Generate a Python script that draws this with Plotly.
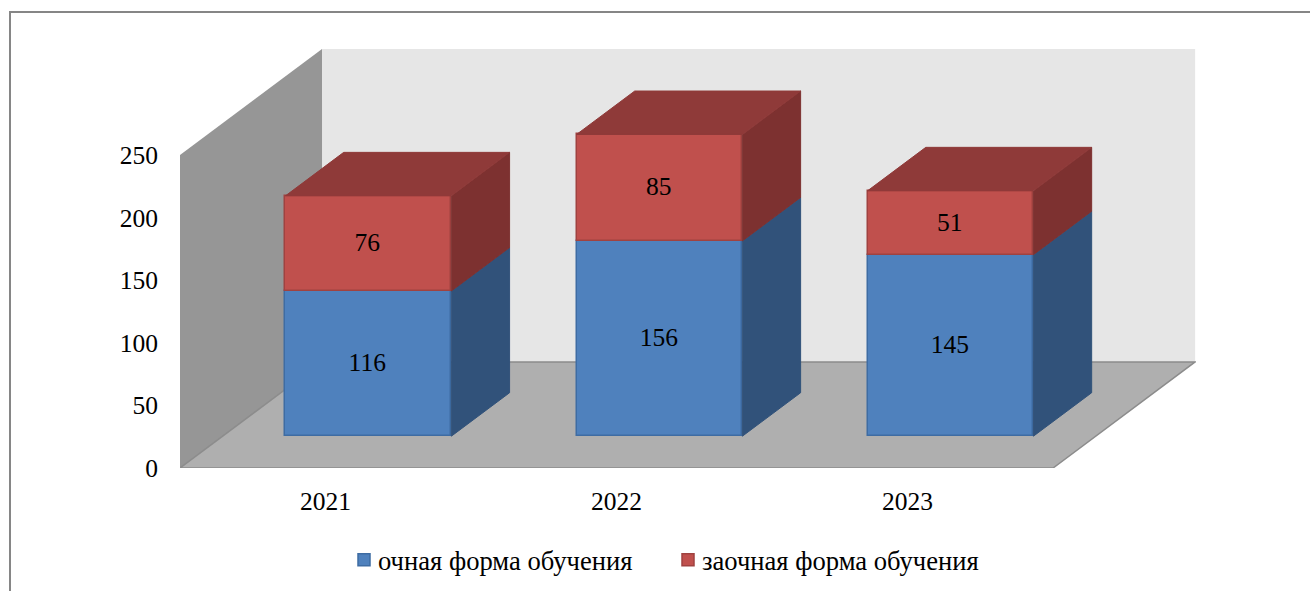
import plotly.graph_objects as go

# ---- data ----
years = ["2021", "2022", "2023"]
full_time = [116, 156, 145]
part_time = [76, 85, 51]
y_ticks = [0, 50, 100, 150, 200, 250]
series_names = ["очная форма обучения", "заочная форма обучения"]

# ---- 3D projection parameters (in axis units) ----
DEPTH_X = 0.488     # floor depth along x
DEPTH_Y = 84.7      # floor depth along y
BAR_START = 0.30    # bar front as a fraction of the floor depth
BAR_DEPTH = 0.41    # bar depth as a fraction of the floor depth
BAR_WIDTH = 0.57
X_MAX = 3.491
Y_MAX = 335.5

FONT = "Liberation Serif"
FS = 25.5
FS_LEGEND = 26.6
BLUE, BLUE_EDGE, BLUE_SIDE = "#4F81BD", "#3E6CA3", "#31527A"
RED, RED_EDGE, RED_SIDE, RED_TOP = "#C0504D", "#A04240", "#7D3130", "#8F3A39"

centers = [i + 0.5 + BAR_START * DEPTH_X + 0.001 for i in range(len(years))]
base0 = BAR_START * DEPTH_Y
bases_red = [base0 + v for v in full_time]
tops = [base0 + a + b for a, b in zip(full_time, part_time)]
ddx, ddy = BAR_DEPTH * DEPTH_X, BAR_DEPTH * DEPTH_Y

fig = go.Figure()


def face(xs, ys, color):
    fig.add_trace(go.Scatter(
        x=xs + xs[:1], y=ys + ys[:1], mode="lines", fill="toself", fillcolor=color,
        line=dict(color=color, width=1), hoverinfo="skip", showlegend=False))


for c, b, m, t in zip(centers, [base0] * 3, bases_red, tops):
    l, r = c - BAR_WIDTH / 2, c + BAR_WIDTH / 2
    face([r, r + ddx, r + ddx, r], [b, b + ddy, m + ddy, m], BLUE_SIDE)
    face([r, r + ddx, r + ddx, r], [m, m + ddy, t + ddy, t], RED_SIDE)
    face([l, r, r + ddx, l + ddx], [t, t, t + ddy, t + ddy], RED_TOP)

fig.add_trace(go.Bar(
    x=centers, y=full_time, base=[base0] * 3, width=BAR_WIDTH, name=series_names[0],
    marker=dict(color=BLUE, line=dict(color=BLUE_EDGE, width=1.5)),
    text=full_time, textposition="inside", insidetextanchor="middle", textangle=0,
    textfont=dict(family=FONT, size=FS, color="black"), hoverinfo="y"))
fig.add_trace(go.Bar(
    x=centers, y=part_time, base=bases_red, width=BAR_WIDTH, name=series_names[1],
    marker=dict(color=RED, line=dict(color=RED_EDGE, width=1.5)),
    text=part_time, textposition="inside", insidetextanchor="middle", textangle=0,
    textfont=dict(family=FONT, size=FS, color="black"), hoverinfo="y"))


def poly(pts):
    return "M " + " L ".join(f"{x} {y}" for x, y in pts) + " Z"


n = len(years)
h = y_ticks[-1]
shapes = [
    # back wall
    dict(type="path", xref="x", yref="y", layer="below", fillcolor="#E6E6E6", line=dict(width=0),
         path=poly([(DEPTH_X, DEPTH_Y), (n + DEPTH_X, DEPTH_Y), (n + DEPTH_X, DEPTH_Y + h), (DEPTH_X, DEPTH_Y + h)])),
    # left wall
    dict(type="path", xref="x", yref="y", layer="below", fillcolor="#969696", line=dict(width=0),
         path=poly([(0, 0), (DEPTH_X, DEPTH_Y), (DEPTH_X, DEPTH_Y + h), (0, h)])),
    # floor
    dict(type="path", xref="x", yref="y", layer="below", fillcolor="#AFAFAF",
         line=dict(color="#8C8C8C", width=1.5),
         path=poly([(0, 0), (n, 0), (n + DEPTH_X, DEPTH_Y), (DEPTH_X, DEPTH_Y)])),
    # outer chart frame (open at the bottom, cropped at the right)
    dict(type="path", xref="paper", yref="paper", layer="below", line=dict(color="#868686", width=2),
         path=f"M {(10 - 180) / 1016} {(468 - 600) / 420} L {(10 - 180) / 1016} {(468 - 12) / 420} "
              f"L {(1320 - 180) / 1016} {(468 - 12) / 420}"),
]

fig.update_layout(
    width=1310, height=591, autosize=False,
    margin=dict(l=180, r=114, t=48, b=123, pad=0, autoexpand=False),
    paper_bgcolor="white", plot_bgcolor="rgba(0,0,0,0)",
    barmode="overlay", shapes=shapes, bargap=0,
    xaxis=dict(range=[0, X_MAX], tickmode="array", tickvals=[0.5, 1.5, 2.5], ticktext=years,
               showgrid=False, zeroline=False, showline=False, ticks="", ticklabelstandoff=15,
               automargin=False, tickfont=dict(family=FONT, size=FS, color="black")),
    yaxis=dict(range=[0, Y_MAX], tickmode="array", tickvals=y_ticks,
               showgrid=False, zeroline=False, showline=False, ticks="", ticklabelstandoff=21,
               automargin=False, tickfont=dict(family=FONT, size=FS, color="black")),
    legend=dict(orientation="h", x=(344 - 180) / 1016, xanchor="left", y=(468 - 560) / 420, yanchor="middle",
                font=dict(family=FONT, size=FS_LEGEND, color="black"), bgcolor="rgba(0,0,0,0)",
                entrywidth=279, entrywidthmode="pixels", traceorder="normal"),
)

fig.write_html(
    "out.html",
    config={"displayModeBar": False},
    post_script="document.body.style.margin='0';"
                "document.querySelectorAll('.legendtext').forEach(t=>t.setAttribute('x','34'));",
)
